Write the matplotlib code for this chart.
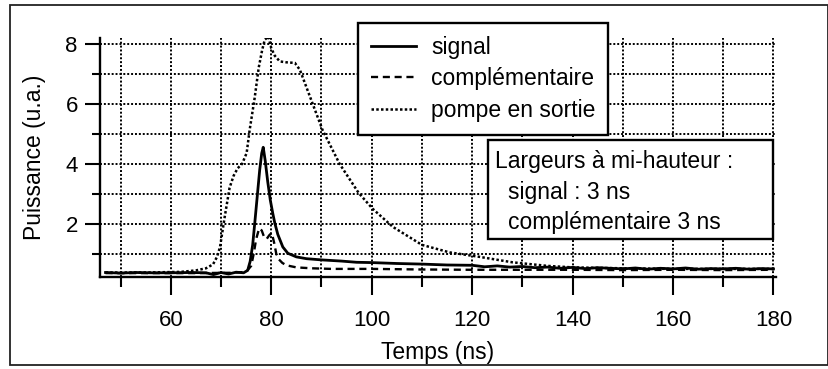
import matplotlib
matplotlib.use("Agg")
import matplotlib.pyplot as plt
from matplotlib.patches import Rectangle
from matplotlib.ticker import MultipleLocator

plt.rcParams['font.family'] = ['Liberation Sans', 'DejaVu Sans']

# --- data ---
t_signal = [47, 50, 53, 56, 60, 64, 67, 68.5, 70, 71.5, 73, 74.5, 75.3, 75.8, 76.3, 76.7,
            77.2, 77.7, 78.1, 78.4, 78.8, 79.3, 79.8, 80.3, 80.7, 81.3, 82.3, 83.3, 85,
            87, 90, 94, 97, 100, 105, 110, 115, 120, 122.5, 125, 127.5, 130, 132.5, 135,
            137.5, 140, 142.5, 145, 147.5, 150, 152.5, 155, 157.5, 160, 162.5, 165, 167.5,
            170, 172.5, 175, 177.5, 180]
v_signal = [0.38, 0.36, 0.38, 0.37, 0.37, 0.38, 0.37, 0.31, 0.38, 0.33, 0.39, 0.37, 0.45,
            0.75, 1.3, 2.0, 2.9, 3.8, 4.35, 4.55, 4.1, 3.4, 2.8, 2.35, 2.03, 1.65, 1.23,
            1.02, 0.9, 0.84, 0.8, 0.76, 0.72, 0.71, 0.68, 0.66, 0.63, 0.62, 0.57, 0.6,
            0.56, 0.58, 0.54, 0.56, 0.52, 0.55, 0.51, 0.54, 0.52, 0.5, 0.53, 0.49, 0.52,
            0.5, 0.53, 0.49, 0.51, 0.5, 0.52, 0.49, 0.51, 0.5]

t_comp = [47, 55, 65, 72, 75, 76, 76.5, 77, 77.6, 78.1, 78.6, 79.1, 79.6, 80.1, 80.6, 81,
          81.5, 82.2, 83, 85, 88, 92, 96, 100, 105, 110, 120, 130, 140, 150, 160, 170, 180]
v_comp = [0.36, 0.36, 0.36, 0.37, 0.4, 0.6, 1.0, 1.5, 1.85, 1.78, 1.55, 1.5, 1.62, 1.7,
          1.35, 1.0, 0.82, 0.7, 0.62, 0.55, 0.52, 0.5, 0.5, 0.5, 0.49, 0.48, 0.47, 0.47,
          0.47, 0.46, 0.47, 0.46, 0.47]

t_pump = [47, 55, 62, 65, 67, 68.4, 69.2, 69.8, 70.7, 71.7, 72.5, 73.3, 74.2, 75.1, 75.7,
          76.7, 77.5, 78.2, 78.7, 79.4, 80, 80.7, 81.7, 83, 84.7, 85.7, 87.7, 90.2, 93.6,
          97.4, 100.2, 104.2, 110, 115.5, 121.5, 128, 135, 140, 150, 160, 170, 180]
v_pump = [0.38, 0.38, 0.4, 0.45, 0.52, 0.65, 0.9, 1.23, 2.2, 3.2, 3.6, 3.85, 4.0, 4.36,
          5.13, 6.2, 7.2, 7.8, 8.13, 8.24, 7.85, 7.6, 7.41, 7.38, 7.36, 7.13, 6.24, 5.13,
          4.0, 3.03, 2.5, 1.9, 1.3, 1.05, 0.9, 0.72, 0.6, 0.55, 0.52, 0.5, 0.5, 0.5]

x_major = [60, 80, 100, 120, 140, 160, 180]
y_major = [2, 4, 6, 8]

FS = 16.5
W, H = 829, 369
fig = plt.figure(figsize=(W / 100, H / 100), dpi=100)
ax = fig.add_axes([100 / W, 1 - 277 / H, (776 - 100) / W, (277 - 38) / H])

ax.set_xlim(45.9, 180.5)
ax.set_ylim(0.23, 8.19)

ax.set_axisbelow(True)
ax.xaxis.set_minor_locator(MultipleLocator(10))
ax.yaxis.set_minor_locator(MultipleLocator(1))
ax.set_xticks(x_major)
ax.set_yticks(y_major)
ax.grid(True, which='both', color='black', linestyle=(0, (1, 1.0)), linewidth=1.4)

ax.plot(t_signal, v_signal, color='black', lw=2.0, ls='-', label='signal')
ax.plot(t_comp, v_comp, color='black', lw=1.7, ls=(0, (3, 2)), label='complémentaire')
ax.plot(t_pump, v_pump, color='black', lw=1.8, ls=(0, (1, 0.9)), label='pompe en sortie')

for s in ['top', 'right']:
    ax.spines[s].set_visible(False)
for s in ['left', 'bottom']:
    ax.spines[s].set_linewidth(1.7)

ax.tick_params(axis='both', which='major', direction='out', width=1.5, labelsize=16,
               color='black')
ax.tick_params(axis='x', which='major', length=13, pad=11)
ax.tick_params(axis='x', which='minor', length=7, width=1.5)
ax.tick_params(axis='y', which='major', length=11, pad=5)
ax.tick_params(axis='y', which='minor', length=6, width=1.5)

ax.set_xlabel('Temps (ns)', fontsize=FS, labelpad=7)
ax.set_ylabel('Puissance (u.a.)', fontsize=FS, labelpad=14)

leg = ax.legend(loc='upper left', bbox_to_anchor=((358 - 100) / 676, (277 - 23) / 239),
                fontsize=FS, frameon=True, fancybox=False, handlelength=2.0,
                handletextpad=0.65, borderpad=0.55, labelspacing=0.38, borderaxespad=0)
leg.get_frame().set_edgecolor('black')
leg.get_frame().set_linewidth(1.7)
leg.get_frame().set_alpha(1)

# text box
fx = lambda px: px / W
fy = lambda py: 1 - py / H
box = Rectangle((fx(488), fy(239)), fx(773) - fx(488), fy(140) - fy(239),
                transform=fig.transFigure, facecolor='white', edgecolor='black',
                linewidth=1.7, zorder=5)
fig.add_artist(box)
fig.text(fx(495), fy(162), 'Largeurs à mi-hauteur :', fontsize=FS, va='center',
         ha='left', zorder=6)
fig.text(fx(508), fy(193), 'signal : 3 ns', fontsize=FS, va='center', ha='left', zorder=6)
fig.text(fx(508), fy(222), 'complémentaire 3 ns', fontsize=FS, va='center', ha='left',
         zorder=6)

# outer frame
frame = Rectangle((fx(10), fy(365)), fx(828) - fx(10), fy(5) - fy(365),
                  transform=fig.transFigure, facecolor='none', edgecolor='#222222',
                  linewidth=1.3)
fig.add_artist(frame)

fig.savefig('out.png', dpi=100)
